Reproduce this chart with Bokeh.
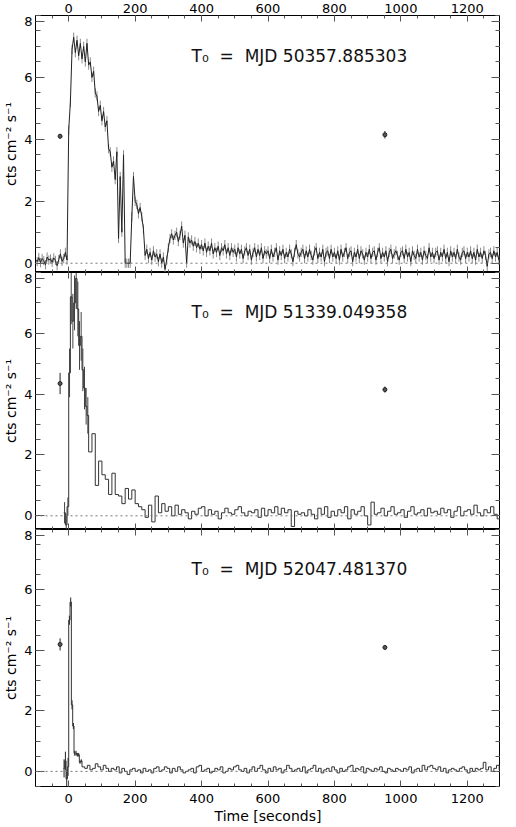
import numpy as np
from bokeh.plotting import figure
from bokeh.layouts import column
from bokeh.models import LinearAxis, FixedTicker, Span, Range1d, Label
from bokeh.embed import file_html
from bokeh.resources import INLINE

# ---------------- data ----------------
# Panel 1: 5 s bins starting at -100 s
p1_start = -100
p1_bin = 5
p1_rate = [
    0.12, 0.05, 0.18, 0.02, 0.15, 0.08, -0.05, 0.2, 0.1, 0.14, 0.03, 0.17, 0.09, -0.08, 0.12, 0.3, 0.06, 0.15, 0.35, 0.1,
    4.3, 5.2, 6.9, 7.3, 6.8, 7.2, 6.7, 7.1, 6.6, 7.0, 6.5, 7.1, 6.4, 6.5, 6.0, 6.2, 5.5, 5.4, 4.9, 5.1,
    4.6, 4.9, 4.4, 4.6, 3.7, 3.6, 3.1, 3.3, 2.7, 3.6, 0.8, 2.8, 1.0, 3.5, 0.0, 0.0, 0.0, 0.0, 1.5, 2.8,
    2.0, 1.9, 1.6, 1.8, 1.5, 1.1, 0.25, 0.45, 0.15, 0.35, 0.1, 0.4, 0.2, 0.3, 0.05, 0.3, 0.0, 0.2, -0.2, 0.1,
    0.5, 0.8, 0.95, 0.75, 0.9, 1.0, 0.7, 0.9, 1.2, 0.65, 0.9, 0.0, 0.85, 0.65, 0.75, 0.55, 0.7, 0.5, 0.65, 0.45,
    0.6, 0.4, 0.65, 0.35, 0.55, 0.4, 0.65, 0.3, 0.5, 0.35, 0.55, 0.25, 0.5, 0.4, 0.6, 0.3, 0.5, 0.25, 0.5, 0.35,
    0.45, 0.2, 0.5, 0.3, 0.45, 0.15, 0.4, 0.5, 0.25, 0.45, 0.1, 0.35, 0.5, 0.2, 0.45, 0.25, 0.5, 0.15, 0.4, 0.3,
    0.4, 0.15, 0.45, 0.2, 0.35, 0.5, 0.1, 0.4, 0.25, 0.45, 0.15, 0.35, 0.2, 0.45, 0.3, 0.05, 0.35, 0.6, 0.3, 0.2,
    0.35, 0.45, 0.15, 0.4, 0.2, 0.45, 0.25, 0.1, 0.4, 0.5, 0.15, 0.35, 0.2, 0.45, 0.05, 0.35, 0.4, 0.15, 0.45, 0.2,
    0.35, 0.15, 0.4, 0.1, 0.45, 0.2, 0.35, 0.5, 0.15, 0.35, 0.4, 0.05, 0.35, 0.2, 0.45, 0.15, 0.4, 0.3, 0.1, 0.35,
    0.2, 0.45, 0.15, 0.35, 0.4, 0.1, 0.35, 0.5, 0.15, 0.35, 0.2, 0.4, 0.05, 0.35, 0.45, 0.15, 0.3, 0.4, 0.25, 0.1,
    0.35, 0.4, 0.15, 0.45, 0.2, 0.35, 0.05, 0.4, 0.25, 0.15, 0.45, 0.2, 0.35, 0.1, 0.4, 0.25, 0.15, 0.5, 0.2, 0.35,
    0.15, 0.35, 0.4, 0.1, 0.35, 0.2, 0.45, 0.15, 0.35, 0.05, 0.4, 0.2, 0.35, 0.15, 0.45, 0.2, 0.1, 0.35, 0.4, 0.15,
    0.35, 0.2, 0.4, 0.15, 0.35, 0.1, 0.45, 0.2, 0.35, 0.15, 0.4, 0.25, -0.1, 0.3, 0.35, 0.15, 0.4, 0.2, 0.35, 0.1,
]
p1_err = 0.15

# Panel 2: 5 s bins from -15 s to 60 s, then 10 s bins to 1300 s
p2_fine_start, p2_fine_bin = -15, 5
p2_fine_rate = [0.1, -0.3, 0.3, 4.7, 7.2, 6.4, 7.0, 7.8, 6.8, 5.6, 5.9, 4.8, 4.2, 3.6, 3.3]
p2_fine_err = [0.35, 0.35, 0.3, 0.8, 0.9, 0.9, 0.9, 1.0, 0.9, 0.8, 0.8, 0.7, 0.7, 0.6, 0.6]
p2_coarse_start, p2_coarse_bin = 60, 10
p2_coarse_rate = [
    2.1, 2.7, 1.0, 1.8, 1.35, 1.2, 0.7, 1.4, 0.7, 0.65, 0.4, 0.9, 0.55, 0.85, 0.4, 0.3, 0.2, -0.05,
    0.35, -0.2, 0.65, 0.1, 0.4, 0.15, 0.3, 0.0, 0.35, 0.05, 0.2, 0.1, -0.1, 0.15, 0.05, 0.25, 0.3, 0.0,
    0.2, 0.05, 0.15, -0.1, 0.1, 0.25, 0.1, 0.05, 0.2, 0.3, 0.1, 0.0, 0.15, 0.1, 0.2, -0.05, 0.25, 0.0,
    0.2, 0.1, 0.3, 0.05, 0.25, 0.1, 0.2, -0.35, 0.15, 0.05, 0.1, 0.0, 0.2, 0.05, -0.1, 0.25, 0.05, 0.3,
    -0.05, 0.15, 0.0, 0.2, 0.1, 0.3, -0.1, 0.2, 0.05, 0.15, 0.3, 0.0, -0.3, 0.45, 0.05, 0.1, 0.25, 0.0,
    0.15, 0.3, 0.05, 0.1, 0.2, -0.05, 0.15, 0.3, 0.05, 0.1, 0.2, 0.0, 0.25, 0.1, 0.15, 0.05, 0.25, 0.1,
    0.2, -0.05, 0.15, 0.3, 0.0, 0.15, 0.2, 0.05, 0.35, 0.1, 0.0, 0.2, 0.1, 0.3, 0.05, -0.1,
]

# Panel 3: 4 s bins from -16 s to 40 s, then 8 s bins
p3_fine_start, p3_fine_bin = -16, 4
p3_fine_rate = [0.1, 0.35, -0.25, 0.15, 5.0, 5.6, 2.2, 1.5, 0.6, 0.6, 0.55, 0.55, 0.3, 0.35]
p3_fine_err = [0.3, 0.3, 0.3, 0.3, 0.15, 0.15, 0.15, 0.1, 0.08, 0.08, 0.06, 0.06, 0.05, 0.05]
p3_coarse_start, p3_coarse_bin = 40, 8
p3_coarse_rate = [
    0.15, 0.1, 0.2, 0.05, 0.1, 0.25, 0.15, 0.05, 0.2, 0.1,
    0.0, 0.1, 0.05, 0.15, -0.05, 0.1, 0.0, -0.1, 0.05, 0.1,
    0.0, 0.05, -0.05, 0.1, 0.0, 0.05, -0.05, 0.1, 0.15, 0.0,
    0.05, 0.15, 0.1, -0.05, 0.1, 0.0, 0.15, 0.05, -0.05, 0.0,
    0.05, 0.1, -0.05, 0.15, 0.2, 0.0, 0.05, 0.1, -0.05, 0.0,
    0.1, 0.05, 0.15, -0.05, 0.0, 0.1, 0.05, 0.15, 0.2, 0.05,
    0.0, 0.1, -0.05, 0.05, 0.15, 0.0, 0.1, 0.2, 0.05, -0.05,
    0.1, 0.0, 0.15, 0.05, 0.1, -0.05, 0.05, 0.2, 0.1, 0.0,
    0.05, 0.1, 0.0, 0.15, -0.05, 0.05, 0.1, 0.2, 0.0, 0.1,
    -0.05, 0.05, 0.1, 0.0, 0.15, 0.05, -0.05, 0.1, 0.0, 0.05,
    0.15, 0.2, 0.0, 0.1, 0.05, 0.15, -0.05, 0.1, 0.05, 0.0,
    0.1, 0.05, 0.15, 0.0, -0.05, 0.1, 0.05, 0.0, 0.1, 0.05,
    0.0, 0.1, 0.05, 0.15, -0.05, 0.05, 0.1, 0.0, 0.2, 0.05,
    0.15, 0.2, 0.1, 0.05, 0.15, 0.0, 0.1, -0.05, 0.05, 0.1,
    0.05, 0.0, 0.1, 0.15, 0.05, -0.05, 0.1, 0.0, 0.1, 0.05,
    0.1, 0.3, 0.05, 0.15, 0.0, 0.1, 0.2, 0.05,
]

# Reference points with error bars (time, rate, error) per panel
ref_t = [-26, 952]
ref_rate = [[4.1, 4.15], [4.35, 4.15], [4.2, 4.1]]
ref_err = [[0.08, 0.12], [0.35, 0.1], [0.2, 0.07]]

t0_labels = ["50357.885303", "51339.049358", "52047.481370"]
y_lows = [-0.3, -0.45, -0.5]

x_major = [0, 200, 400, 600, 800, 1000, 1200]
x_minor = list(range(-100, 1301, 50))
# the top "8" label is kept just inside each panel, as in the original
y_major = [0, 2, 4, 6, 7.8]
y_major_text = {0: "0", 2: "2", 4: "4", 6: "6", 7.8: "8"}
y_minor = [v * 0.5 for v in range(-1, 17)]

FONT = "DejaVu Sans"
INK = "#222222"


def step_path(edges, vals):
    edges = np.asarray(edges, dtype=float)
    xs = np.repeat(edges, 2)[1:-1]
    ys = np.repeat(np.asarray(vals, dtype=float), 2)
    return xs, ys


def add_axis(p, side, ticker, show_labels, tick_major, tick_minor, title=None,
             overrides=None, standoff=3):
    ax = LinearAxis(ticker=ticker)
    ax.axis_line_color = "black"
    ax.axis_line_width = 1
    ax.major_tick_in = tick_major
    ax.major_tick_out = 0
    ax.minor_tick_in = tick_minor
    ax.minor_tick_out = 0
    ax.major_tick_line_color = "#555555"
    ax.minor_tick_line_color = "#555555"
    if show_labels:
        ax.major_label_text_font = FONT
        ax.major_label_text_font_size = "13px"
        ax.major_label_text_color = "black"
        ax.major_label_standoff = standoff
        if overrides:
            ax.major_label_overrides = overrides
    else:
        ax.major_label_text_color = None
        ax.major_label_text_font_size = "1px"
        ax.major_label_standoff = 0
    if title:
        ax.axis_label = title
        ax.axis_label_text_font = FONT
        ax.axis_label_text_font_size = "14px"
        ax.axis_label_text_font_style = "normal"
        ax.axis_label_text_color = "black"
        ax.axis_label_standoff = 2
    p.add_layout(ax, side)
    return ax


def make_panel(i, frame_h, top_labels, bottom_labels, xtitle=None):
    p = figure(width=500, frame_height=frame_h,
               x_range=Range1d(-100, 1300), y_range=Range1d(y_lows[i], 8),
               output_backend="svg", toolbar_location=None,
               x_axis_location=None, y_axis_location=None,
               min_border_left=0, min_border_right=0,
               min_border_top=0, min_border_bottom=0)
    p.outline_line_color = "black"
    p.background_fill_color = "white"
    p.border_fill_color = "white"
    p.xgrid.visible = False
    p.ygrid.visible = False

    xt = FixedTicker(ticks=x_major, minor_ticks=x_minor)
    yt = FixedTicker(ticks=y_major, minor_ticks=y_minor + [8])
    add_axis(p, "above", xt, top_labels, 6, 3)
    add_axis(p, "below", xt, bottom_labels, 6, 3, xtitle, standoff=7)
    add_axis(p, "left", yt, True, 9, 5, "cts cm\u207b\u00b2 s\u207b\u00b9", y_major_text)
    add_axis(p, "right", yt, False, 9, 5)

    p.add_layout(Span(location=0, dimension="width", line_color="#777777",
                      line_dash="2 3", line_width=1))

    # reference points
    p.segment(x0=ref_t, x1=ref_t,
              y0=[r - e for r, e in zip(ref_rate[i], ref_err[i])],
              y1=[r + e for r, e in zip(ref_rate[i], ref_err[i])],
              line_color=INK, line_width=1)
    p.scatter(x=ref_t, y=ref_rate[i], size=4, marker="circle",
              line_color=INK, fill_color="#555555")

    p.add_layout(Label(x=370, y=6.7,
                       text="T\u2080\u00a0\u00a0=\u00a0\u00a0MJD\u00a0" + t0_labels[i],
                       text_align="left", text_baseline="alphabetic",
                       text_font=FONT, text_font_size="17px", text_color="#111111"))
    return p


p1 = make_panel(0, 257, True, False)
p2 = make_panel(1, 257, False, False)
p3 = make_panel(2, 257, False, True, "Time [seconds]")

# panel 1 light curve with error bars
t1 = p1_start + p1_bin * np.arange(len(p1_rate))
r1 = np.asarray(p1_rate)
p1.segment(x0=t1, x1=t1, y0=r1 - p1_err, y1=r1 + p1_err, line_color="#8a8a8a", line_width=1)
p1.line(t1, r1, line_color=INK, line_width=1)

# panel 2 histogram
e2 = np.concatenate([p2_fine_start + p2_fine_bin * np.arange(len(p2_fine_rate)),
                     p2_coarse_start + p2_coarse_bin * np.arange(len(p2_coarse_rate) + 1)])
x2, y2 = step_path(e2, p2_fine_rate + p2_coarse_rate)
c2 = p2_fine_start + p2_fine_bin * (np.arange(len(p2_fine_rate)) + 0.5)
p2.segment(x0=c2, x1=c2,
           y0=[r - e for r, e in zip(p2_fine_rate, p2_fine_err)],
           y1=[r + e for r, e in zip(p2_fine_rate, p2_fine_err)],
           line_color="#444444", line_width=1)
p2.line(x2, y2, line_color="#333333", line_width=1)

# panel 3 histogram
e3 = np.concatenate([p3_fine_start + p3_fine_bin * np.arange(len(p3_fine_rate)),
                     p3_coarse_start + p3_coarse_bin * np.arange(len(p3_coarse_rate) + 1)])
x3, y3 = step_path(e3, p3_fine_rate + p3_coarse_rate)
c3 = p3_fine_start + p3_fine_bin * (np.arange(len(p3_fine_rate)) + 0.5)
p3.segment(x0=c3, x1=c3,
           y0=[r - e for r, e in zip(p3_fine_rate, p3_fine_err)],
           y1=[r + e for r, e in zip(p3_fine_rate, p3_fine_err)],
           line_color="#222222", line_width=1)
p3.line(x3, y3, line_color="#333333", line_width=1)

layout = column(p1, p2, p3, spacing=0)
open("out.html", "w").write(file_html(layout, INLINE))
